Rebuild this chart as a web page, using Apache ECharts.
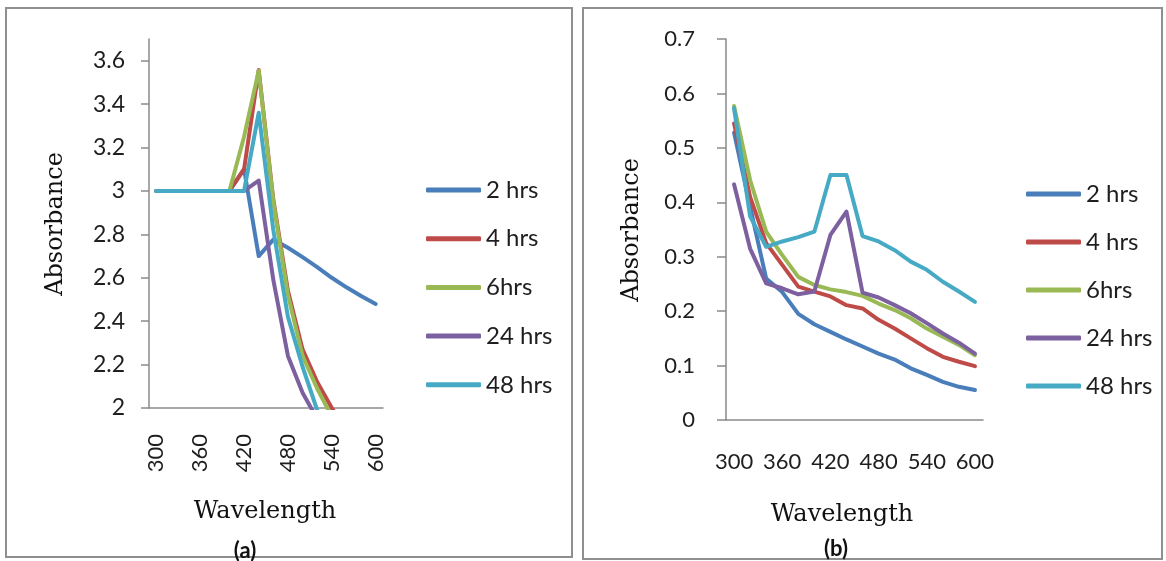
<!DOCTYPE html>
<html>
<head>
<meta charset="utf-8">
<script src="https://cdn.jsdelivr.net/npm/echarts@6/dist/echarts.min.js"></script>
<style>
html,body{margin:0;padding:0;background:#fff;}
#chart{width:1166px;height:561px;}
</style>
</head>
<body>
<div id="chart"></div>
<script>
// Wavelength categories (nm)
const wavelengths = [300,320,340,360,380,400,420,440,460,480,500,520,540,560,580,600];
const seriesNames = ['2 hrs','4 hrs','6hrs','24 hrs','48 hrs'];
const seriesColors = ['#4A7EBB','#BE4B48','#98B954','#7D60A0','#46AAC5'];

// Panel (a) absorbance
const a_2hrs  = [3,3,3,3,3,3,3.1,2.7,2.776,2.738,2.695,2.649,2.60,2.556,2.516,2.479];
const a_4hrs  = [3,3,3,3,3,3,3.1,3.557,2.96,2.54,2.27,2.12,2.0,1.9,1.82,1.75];
const a_6hrs  = [3,3,3,3,3,3,3.25,3.554,2.95,2.52,2.24,2.09,1.96,1.86,1.78,1.72];
const a_24hrs = [3,3,3,3,3,3,3,3.048,2.59,2.24,2.07,1.95,1.85,1.77,1.7,1.65];
const a_48hrs = [3,3,3,3,3,3,3,3.36,2.82,2.42,2.19,1.99,1.9,1.82,1.75,1.7];

// Panel (b) absorbance
const b_2hrs  = [0.528,0.392,0.26,0.235,0.195,0.176,0.162,0.148,0.135,0.122,0.111,0.095,0.083,0.070,0.061,0.055];
const b_4hrs  = [0.545,0.41,0.325,0.285,0.245,0.236,0.227,0.211,0.205,0.184,0.168,0.150,0.132,0.116,0.107,0.099];
const b_6hrs  = [0.577,0.441,0.346,0.303,0.263,0.248,0.240,0.235,0.228,0.214,0.202,0.187,0.168,0.153,0.138,0.119];
const b_24hrs = [0.433,0.315,0.251,0.242,0.231,0.236,0.34,0.383,0.234,0.225,0.211,0.196,0.178,0.159,0.142,0.122];
const b_48hrs = [0.573,0.374,0.318,0.328,0.336,0.346,0.45,0.45,0.338,0.328,0.312,0.291,0.276,0.254,0.236,0.217];

// Y tick values
const a_yTicks = [2,2.2,2.4,2.6,2.8,3,3.2,3.4,3.6];

const panelA = [a_2hrs,a_4hrs,a_6hrs,a_24hrs,a_48hrs];
const panelB = [b_2hrs,b_4hrs,b_6hrs,b_24hrs,b_48hrs];

const FONT = 'Lato';
const txt = '#1e1e1e';
const axisCol = '#8a8a8a';

function mkSeries(arr, idx){
  return arr.map((d,i)=>({
    name: seriesNames[i], type:'line', xAxisIndex: idx, yAxisIndex: idx,
    data: d, symbol:'none', smooth:false, clip:true,
    lineStyle:{width:4, color: seriesColors[i], cap:'round', join:'round'},
    itemStyle:{color: seriesColors[i]},
    emphasis:{disabled:true}
  }));
}

const chart = echarts.init(document.getElementById('chart'), null, {renderer:'canvas'});
const legendBase = {
  orient:'vertical', icon:'roundRect', itemWidth:55, itemHeight:5,
  data: seriesNames, selectedMode:false,
  textStyle:{fontFamily:FONT, fontSize:24, color:txt, lineHeight:24}
};
chart.setOption({
  animation:false,
  backgroundColor:'#fff',
  color: seriesColors,
  grid:[
    {left:149, top:39, width:234, height:369},
    {left:726, top:39, width:257, height:381}
  ],
  legend:[
    Object.assign({}, legendBase, {left:421, top:173, itemGap:24.7}),
    Object.assign({}, legendBase, {left:1021, top:177, itemGap:24})
  ],
  xAxis:[
    {type:'category', gridIndex:0, data:wavelengths, boundaryGap:true,
     axisLine:{lineStyle:{color:axisCol, width:1.5}}, axisTick:{show:false},
     axisLabel:{interval:2, rotate:90, margin:26, fontFamily:FONT, fontSize:22, color:txt}},
    {type:'category', gridIndex:1, data:wavelengths, boundaryGap:true,
     axisLine:{lineStyle:{color:axisCol, width:1.5}}, axisTick:{show:false},
     axisLabel:{interval:2, margin:31, fontFamily:FONT, fontSize:22, color:txt}}
  ],
  yAxis:[
    {type:'value', gridIndex:0, min:2, max:3.7, interval:0.1,
     axisLine:{show:true, lineStyle:{color:axisCol, width:1.5}},
     axisTick:{show:true, length:8, customValues:a_yTicks, lineStyle:{color:axisCol, width:1.5}},
     splitLine:{show:false},
     axisLabel:{customValues:a_yTicks, margin:24, fontFamily:FONT, fontSize:23, color:txt}},
    {type:'value', gridIndex:1, min:0, max:0.7, interval:0.1,
     axisLine:{show:true, lineStyle:{color:axisCol, width:1.5}},
     axisTick:{show:true, length:9, lineStyle:{color:axisCol, width:1.5}},
     splitLine:{show:false},
     axisLabel:{margin:31, fontFamily:FONT, fontSize:22, color:txt}}
  ],
  series: mkSeries(panelA,0).concat(mkSeries(panelB,1)),
  graphic:[
    {type:'rect', shape:{x:6,y:8,width:566,height:549}, style:{fill:null, stroke:'#8f8f8f', lineWidth:2}, z:-1},
    {type:'rect', shape:{x:583,y:8,width:579,height:551}, style:{fill:null, stroke:'#8f8f8f', lineWidth:2}, z:-1},
    {type:'text', x:56, y:224, rotation:Math.PI/2, style:{text:'Absorbance', font:'24px "DejaVu Serif"', fill:'#111', textAlign:'center', textVerticalAlign:'middle'}},
    {type:'text', x:632, y:230, rotation:Math.PI/2, style:{text:'Absorbance', font:'24px "DejaVu Serif"', fill:'#111', textAlign:'center', textVerticalAlign:'middle'}},
    {type:'text', x:265, y:512, style:{text:'Wavelength', font:'24px "DejaVu Serif"', fill:'#111', textAlign:'center', textVerticalAlign:'middle'}},
    {type:'text', x:842, y:515, style:{text:'Wavelength', font:'24px "DejaVu Serif"', fill:'#111', textAlign:'center', textVerticalAlign:'middle'}},
    {type:'text', x:245, y:551, style:{text:'(a)', font:'bold 22px Lato', fill:'#111', textAlign:'center', textVerticalAlign:'middle'}},
    {type:'text', x:836, y:549, style:{text:'(b)', font:'bold 22px Lato', fill:'#111', textAlign:'center', textVerticalAlign:'middle'}}
  ]
});
</script>
</body>
</html>
